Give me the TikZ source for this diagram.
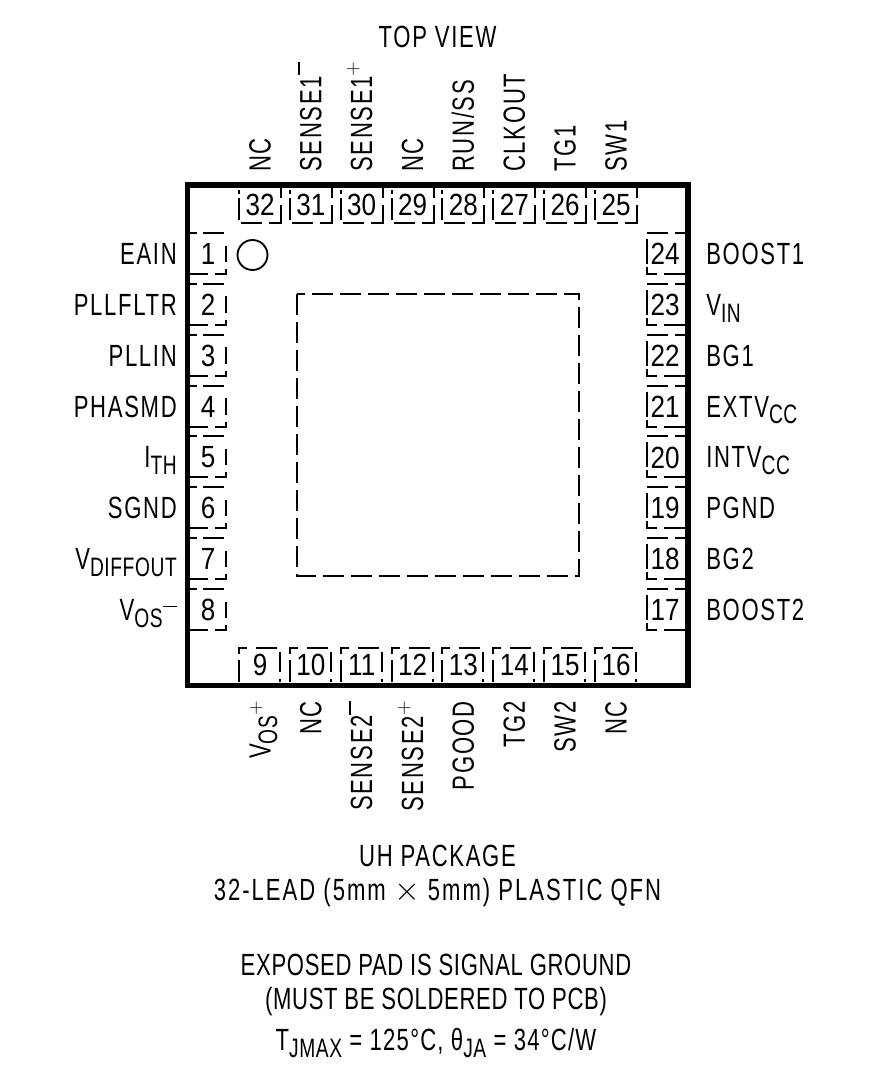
\documentclass[tikz,border=0pt]{standalone}
\usepackage{fontspec}
\setmainfont[FakeStretch=0.72,LetterSpace=5.5]{Liberation Sans}
\newfontfamily\numfont[FakeStretch=0.85]{Liberation Sans}
\newfontfamily\capfont[FakeStretch=0.72,LetterSpace=2.2]{Liberation Sans}
\newfontfamily\midfont[FakeStretch=0.72,LetterSpace=4]{Liberation Sans}
\newfontfamily\widefont[FakeStretch=0.72,LetterSpace=6.5]{Liberation Sans}
\newcommand{\lsub}[1]{\raisebox{-5pt}{\fontsize{20}{20}\capfont #1}}
\newcommand{\lplus}[1]{\raisebox{#1}{\fontsize{14}{14}\selectfont $+$}}
\newcommand{\lminus}[1]{\kern0.5pt\rule[#1]{10pt}{1.2pt}}
\tikzset{
 lbl/.style={inner sep=0pt,font=\fontsize{23}{24}\selectfont},
 num/.style={inner sep=0pt,font=\fontsize{23}{24}\numfont},
 pad/.style={draw=black,line width=1.5pt,line join=miter},
 epad/.style={draw=black,line width=1.6pt,dash pattern=on 15.5pt off 5.5pt},
 body/.style={draw=black,line width=4.2pt,line join=miter},
 leftpad/.pic={
   \draw[pad] (190,-21)--(197,-21) (203,-21)--(224,-21)
     (226,-8.5)--(226,8) (226,15)--(226,20)--(215,20) (208,20)--(190,20);},
 rightpad/.pic={
   \draw[pad] (647,-21)--(668,-21) (675,-21)--(685,-21)
     (647,-15)--(647,10) (647,13)--(647,20)--(657,20) (664,20)--(685,20);},
 toppad/.pic={
   \draw[pad] (-21,190)--(-21,194) (-21,198)--(-21,220)
     (-19,223)--(2,223) (9,223)--(21,223)--(21,205) (21,198)--(21,188);},
 botpad/.pic={
   \draw[pad] (-21,682)--(-21,660) (-21,654)--(-21,648)--(-13,648)
     (-4,648)--(17,648) (20,652)--(20,672) (20,679)--(20,682);},
}
\begin{document}
\begin{tikzpicture}[x=0.75pt,y=-0.75pt]
\useasboundingbox (0,0) rectangle (887,1077);
\draw[body] (187.5,185) rectangle (688,685.5);
\draw[epad] (297,294) rectangle (579,576);
\node[draw=black,line width=1.4pt,circle,minimum size=22.5pt,inner sep=0pt] (dot) at (252.5,255) {};
% left and right pads
\foreach \n [count=\i from 0] in {1,...,8}{
  \pgfmathsetmacro\yc{254+50.86*\i}
  \pic at (0,\yc) {leftpad};
  \node[num] (p\n) at (208,\yc) {\n};
}
\foreach \n [count=\i from 0] in {24,23,...,17}{
  \pgfmathsetmacro\yc{254+50.86*\i}
  \pic at (0,\yc) {rightpad};
  \node[num] (p\n) at (665,\yc) {\n};
}
% top and bottom pads
\foreach \n [count=\i from 0] in {32,31,...,25}{
  \pgfmathsetmacro\xc{260+50.86*\i}
  \pic at (\xc,0) {toppad};
  \node[num] (p\n) at (\xc,205) {\n};
}
\foreach \n [count=\i from 0] in {9,10,...,16}{
  \pgfmathsetmacro\xc{260+50.86*\i}
  \pic at (\xc,0) {botpad};
  \node[num] (p\n) at (\xc,665) {\n};
}
% left labels
\foreach \t [count=\i from 0] in {EAIN,PLLFLTR,PLLIN,PHASMD,I\lsub{TH},SGND,V\lsub{DIFFOUT},V\lsub{OS}\lminus{10pt}}{
  \pgfmathsetmacro\yc{264.5+50.86*\i}
  \node[lbl,anchor=base east] (l\i) at (177,\yc) {\t};
}
% right labels
\foreach \t [count=\i from 0] in {BOOST1,V\lsub{IN},BG1,EXTV\lsub{CC},INTV\lsub{CC},PGND,BG2,BOOST2}{
  \pgfmathsetmacro\yc{264.5+50.86*\i}
  \node[lbl,anchor=base west] (r\i) at (706,\yc) {\t};
}
% top labels
\foreach \t [count=\i from 0] in {NC,SENSE1\lminus{16pt},SENSE1\lplus{10.5pt},NC,RUN/SS,CLKOUT,TG1,SW1}{
  \pgfmathsetmacro\xc{270.5+50.86*\i}
  \node[lbl,rotate=90,anchor=base west] (t\i) at (\xc,172) {\t};
}
% bottom labels
\foreach \t [count=\i from 0] in {V\lsub{OS}\lplus{7pt},NC,SENSE2\lminus{16pt},SENSE2\lplus{10.5pt},PGOOD,TG2,SW2,NC}{
  \pgfmathsetmacro\xc{270.5+50.86*\i}
  \node[lbl,rotate=90,anchor=base east] (b\i) at (\xc,701) {\t};
}
\node[lbl,anchor=base] (title) at (437.5,47.5) {TOP VIEW};
\node[lbl,anchor=base] (c1) at (437.5,866.5) {UH PACKAGE};
\node[lbl,anchor=base,font=\fontsize{23}{24}\widefont] (c2) at (437.5,900.5) {32-LEAD (5mm $\times$ 5mm) PLASTIC QFN};
\node[lbl,anchor=base,font=\fontsize{23}{24}\capfont] (c3) at (436,975.5) {EXPOSED PAD IS SIGNAL GROUND};
\node[lbl,anchor=base,font=\fontsize{23}{24}\capfont] (c4) at (436,1009.5) {(MUST BE SOLDERED TO PCB)};
\node[lbl,anchor=base,font=\fontsize{23}{24}\midfont] (c5) at (436,1050.5) {T\lsub{JMAX} = 125°C, θ\lsub{JA} = 34°C/W};
\end{tikzpicture}
\end{document}
